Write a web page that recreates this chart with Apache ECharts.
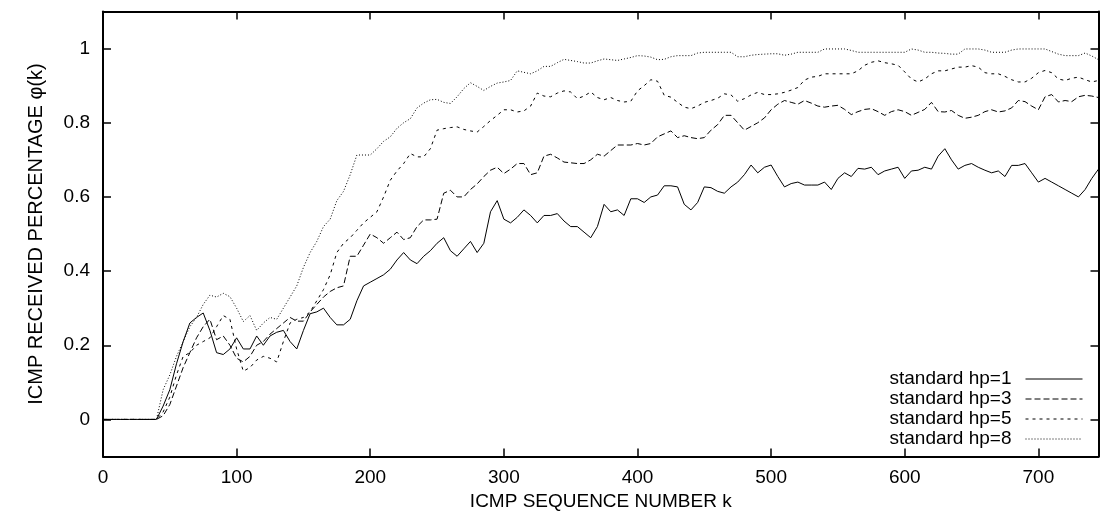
<!DOCTYPE html>
<html><head><meta charset="utf-8">
<script src="https://cdn.jsdelivr.net/npm/echarts@6/dist/echarts.min.js"></script>
<style>html,body{margin:0;padding:0;background:#fff}#c{width:1100px;height:518px}</style>
</head><body><div id="c"></div>
<script>
// sample spacing along the ICMP sequence axis (k = 0, 5, 10, ... 745)
const kStep = 5;
const seriesNames = ['standard hp=1', 'standard hp=3', 'standard hp=5', 'standard hp=8'];
const xTickValues = [0, 100, 200, 300, 400, 500, 600, 700];
const yTickValues = [0, 0.2, 0.4, 0.6, 0.8, 1];

const hp1 = [0,0,0,0,0,0,0,0,
  0,0.036,0.08,0.15,0.21,0.26,0.275,0.287,0.24,0.18,
  0.175,0.19,0.22,0.19,0.19,0.225,0.20,0.225,0.235,0.24,
  0.21,0.19,0.24,0.285,0.29,0.30,0.275,0.255,0.255,0.27,
  0.32,0.36,0.37,0.38,0.39,0.405,0.43,0.45,0.43,0.42,
  0.44,0.455,0.475,0.49,0.455,0.44,0.46,0.48,0.45,0.475,
  0.56,0.59,0.54,0.53,0.545,0.565,0.55,0.53,0.55,0.55,
  0.555,0.535,0.52,0.52,0.505,0.49,0.52,0.58,0.56,0.565,
  0.55,0.595,0.595,0.585,0.60,0.605,0.63,0.63,0.627,0.58,
  0.565,0.585,0.627,0.625,0.615,0.61,0.627,0.64,0.66,0.686,
  0.665,0.68,0.686,0.655,0.627,0.636,0.64,0.632,0.632,0.632,
  0.64,0.62,0.65,0.665,0.655,0.677,0.675,0.68,0.66,0.67,
  0.675,0.68,0.65,0.67,0.672,0.68,0.675,0.71,0.73,0.70,
  0.675,0.685,0.69,0.68,0.672,0.665,0.67,0.655,0.685,0.685,
  0.69,0.665,0.64,0.65,0.64,0.63,0.62,0.61,0.60,0.62,
  0.65,0.675];

const hp3 = [0,0,0,0,0,0,0,0,
  0,0.01,0.04,0.09,0.14,0.18,0.22,0.25,0.27,0.215,
  0.225,0.20,0.165,0.155,0.17,0.20,0.21,0.23,0.245,0.26,
  0.275,0.265,0.265,0.29,0.31,0.33,0.345,0.355,0.36,0.44,
  0.44,0.47,0.50,0.49,0.475,0.49,0.505,0.485,0.49,0.52,
  0.538,0.538,0.54,0.61,0.618,0.60,0.60,0.62,0.635,0.655,
  0.672,0.68,0.663,0.675,0.69,0.69,0.66,0.665,0.71,0.715,
  0.705,0.694,0.692,0.69,0.69,0.70,0.715,0.71,0.725,0.74,
  0.74,0.74,0.744,0.74,0.744,0.762,0.77,0.778,0.76,0.765,
  0.76,0.757,0.76,0.78,0.795,0.82,0.82,0.80,0.78,0.79,
  0.80,0.813,0.835,0.85,0.86,0.855,0.85,0.86,0.853,0.845,
  0.842,0.845,0.847,0.836,0.822,0.83,0.836,0.838,0.83,0.82,
  0.83,0.835,0.83,0.82,0.828,0.836,0.855,0.83,0.829,0.833,
  0.82,0.812,0.815,0.82,0.83,0.835,0.829,0.832,0.84,0.86,
  0.857,0.845,0.835,0.87,0.876,0.856,0.86,0.857,0.87,0.874,
  0.872,0.868];

const hp5 = [0,0,0,0,0,0,0,0,
  0,0.02,0.06,0.12,0.17,0.18,0.20,0.21,0.22,0.25,
  0.28,0.27,0.19,0.13,0.14,0.16,0.17,0.165,0.155,0.21,
  0.26,0.27,0.275,0.29,0.32,0.35,0.39,0.45,0.475,0.49,
  0.51,0.53,0.545,0.56,0.60,0.645,0.67,0.69,0.717,0.708,
  0.708,0.73,0.78,0.784,0.787,0.789,0.782,0.778,0.775,0.79,
  0.806,0.82,0.835,0.835,0.829,0.832,0.845,0.88,0.872,0.87,
  0.88,0.886,0.883,0.865,0.872,0.883,0.868,0.862,0.868,0.86,
  0.856,0.858,0.886,0.90,0.916,0.912,0.874,0.869,0.855,0.842,
  0.838,0.845,0.855,0.86,0.866,0.878,0.875,0.858,0.865,0.875,
  0.882,0.876,0.876,0.878,0.882,0.888,0.895,0.915,0.923,0.925,
  0.932,0.932,0.932,0.932,0.932,0.94,0.955,0.963,0.967,0.962,
  0.959,0.955,0.937,0.918,0.91,0.918,0.932,0.94,0.94,0.945,
  0.95,0.95,0.954,0.95,0.935,0.932,0.932,0.925,0.916,0.91,
  0.91,0.92,0.935,0.941,0.935,0.918,0.914,0.92,0.923,0.916,
  0.91,0.914];

const hp8 = [0,0,0,0,0,0,0,0,
  0,0.08,0.12,0.17,0.21,0.25,0.275,0.31,0.335,0.33,
  0.34,0.331,0.30,0.264,0.28,0.24,0.26,0.275,0.27,0.30,
  0.33,0.36,0.41,0.45,0.48,0.52,0.54,0.59,0.615,0.66,
  0.713,0.713,0.713,0.73,0.75,0.762,0.785,0.80,0.811,0.84,
  0.853,0.862,0.863,0.855,0.852,0.87,0.892,0.908,0.898,0.887,
  0.898,0.907,0.91,0.914,0.94,0.936,0.932,0.94,0.952,0.952,
  0.962,0.971,0.968,0.965,0.961,0.961,0.967,0.972,0.97,0.968,
  0.972,0.976,0.981,0.98,0.977,0.97,0.971,0.978,0.981,0.981,
  0.981,0.988,0.99,0.99,0.99,0.99,0.99,0.978,0.978,0.982,
  0.984,0.985,0.986,0.986,0.982,0.985,0.99,0.99,0.99,0.99,
  0.999,0.999,0.999,0.999,0.995,0.99,0.99,0.99,0.99,0.99,
  0.99,0.99,0.99,0.999,0.996,0.99,0.99,0.988,0.987,0.985,
  0.985,0.999,0.999,0.999,0.996,0.99,0.99,0.99,0.996,0.999,
  0.999,0.999,0.999,0.999,0.992,0.985,0.981,0.981,0.981,0.988,
  0.98,0.97];

const FONT = "'Liberation Sans', Arial, Helvetica, sans-serif";
const seriesValues = [hp1, hp3, hp5, hp8];
const dashTypes = ['solid', [6, 3], [3, 4], [1, 2]];

const chart = echarts.init(document.getElementById('c'), null, {renderer: 'canvas'});

function pairs(vals) { return vals.map((v, i) => [i * kStep, v]); }

const axisLine = {show: true, onZero: false, lineStyle: {color: '#000', width: 2}};
const tickStyle = {color: '#000', width: 1.5};

chart.setOption({
  animation: false,
  backgroundColor: '#fff',
  textStyle: {fontFamily: FONT},
  grid: {left: 103, right: 1.5, top: 11.5, bottom: 61.5, containLabel: false},
  legend: {
    orient: 'vertical', right: 17, top: 369, align: 'right', padding: 0,
    itemWidth: 57, itemHeight: 10, itemGap: 0, selectedMode: false,
    itemStyle: {opacity: 0},
    lineStyle: {width: 1},
    textStyle: {fontSize: 19, color: '#000', lineHeight: 20, fontFamily: FONT, padding: [0, 9, 0, 0]},
    data: seriesNames
  },
  xAxis: [{
    type: 'value', min: 0, max: 745, position: 'bottom',
    axisLine: axisLine,
    axisTick: {inside: true, length: 8, lineStyle: tickStyle, customValues: xTickValues},
    axisLabel: {fontSize: 19, color: '#000', margin: 12, fontFamily: FONT, customValues: xTickValues},
    splitLine: {show: false},
    name: 'ICMP SEQUENCE NUMBER k', nameLocation: 'middle', nameGap: 31,
    nameTextStyle: {fontSize: 19, color: '#000', fontFamily: FONT}
  }, {
    type: 'value', min: 0, max: 745, position: 'top',
    axisLine: axisLine,
    axisTick: {inside: true, length: 8, lineStyle: tickStyle, customValues: xTickValues},
    axisLabel: {show: false},
    splitLine: {show: false}
  }],
  yAxis: [{
    type: 'value', min: -0.1, max: 1.1, position: 'left',
    axisLine: axisLine,
    axisTick: {inside: true, length: 8, lineStyle: tickStyle, customValues: yTickValues},
    axisLabel: {fontSize: 19, color: '#000', margin: 13, fontFamily: FONT, customValues: yTickValues},
    splitLine: {show: false},
    name: 'ICMP RECEIVED PERCENTAGE φ(k)', nameLocation: 'middle', nameGap: 57, nameRotate: 90,
    nameTextStyle: {fontSize: 20, color: '#000', fontFamily: FONT}
  }, {
    type: 'value', min: -0.1, max: 1.1, position: 'right',
    axisLine: axisLine,
    axisTick: {inside: true, length: 8, lineStyle: tickStyle, customValues: yTickValues},
    axisLabel: {show: false},
    splitLine: {show: false}
  }],
  series: seriesNames.map((name, i) => ({
    name: name, type: 'line', xAxisIndex: 0, yAxisIndex: 0,
    symbol: 'none', showSymbol: false,
    lineStyle: {color: '#000', width: 1, type: dashTypes[i]},
    itemStyle: {color: '#000'},
    data: pairs(seriesValues[i])
  }))
});
</script>
</body></html>
